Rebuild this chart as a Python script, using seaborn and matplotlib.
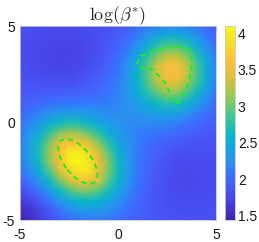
import numpy as np
import matplotlib
matplotlib.use("Agg")
import matplotlib.pyplot as plt
from matplotlib.colors import LinearSegmentedColormap
from matplotlib.patches import Ellipse
import seaborn as sns

# grid of the map (columns left->right, rows top->bottom)
grid_x = [-5, -4.5, -4, -3.5, -3, -2.5, -2, -1.5, -1, -0.5, 0, 0.5, 1, 1.5, 2, 2.5, 3, 3.5, 4, 4.5, 5]
grid_y = [5, 4.5, 4, 3.5, 3, 2.5, 2, 1.5, 1, 0.5, 0, -0.5, -1, -1.5, -2, -2.5, -3, -3.5, -4, -4.5, -5]

# log(beta*)
log_beta = [
    [1.82, 1.80, 1.79, 1.77, 1.76, 1.76, 1.77, 1.79, 1.81, 1.84, 1.88, 1.93, 2.00, 2.08, 2.16, 2.21, 2.21, 2.15, 2.07, 1.99, 1.92],
    [1.81, 1.79, 1.77, 1.75, 1.74, 1.74, 1.75, 1.77, 1.81, 1.85, 1.91, 1.99, 2.11, 2.26, 2.41, 2.50, 2.50, 2.41, 2.25, 2.10, 1.98],
    [1.80, 1.78, 1.75, 1.73, 1.72, 1.72, 1.73, 1.77, 1.81, 1.87, 1.95, 2.08, 2.26, 2.49, 2.73, 2.88, 2.88, 2.73, 2.48, 2.24, 2.05],
    [1.80, 1.77, 1.75, 1.72, 1.71, 1.71, 1.73, 1.77, 1.83, 1.90, 2.01, 2.17, 2.42, 2.73, 3.05, 3.26, 3.27, 3.06, 2.72, 2.38, 2.13],
    [1.81, 1.78, 1.75, 1.73, 1.72, 1.73, 1.75, 1.79, 1.85, 1.94, 2.06, 2.25, 2.54, 2.91, 3.29, 3.53, 3.53, 3.28, 2.88, 2.48, 2.18],
    [1.82, 1.80, 1.78, 1.76, 1.76, 1.76, 1.79, 1.83, 1.90, 1.98, 2.10, 2.30, 2.58, 2.96, 3.34, 3.58, 3.58, 3.32, 2.91, 2.50, 2.19],
    [1.85, 1.84, 1.83, 1.82, 1.82, 1.83, 1.86, 1.90, 1.95, 2.03, 2.14, 2.30, 2.56, 2.88, 3.21, 3.41, 3.40, 3.16, 2.80, 2.43, 2.16],
    [1.88, 1.89, 1.90, 1.91, 1.92, 1.94, 1.95, 1.98, 2.02, 2.08, 2.16, 2.28, 2.47, 2.71, 2.94, 3.09, 3.06, 2.87, 2.59, 2.31, 2.09],
    [1.93, 1.96, 2.00, 2.05, 2.08, 2.10, 2.11, 2.11, 2.11, 2.13, 2.18, 2.25, 2.36, 2.51, 2.64, 2.72, 2.69, 2.55, 2.36, 2.16, 2.02],
    [1.99, 2.06, 2.15, 2.24, 2.32, 2.35, 2.34, 2.30, 2.25, 2.21, 2.20, 2.22, 2.26, 2.33, 2.38, 2.41, 2.37, 2.28, 2.16, 2.04, 1.95],
    [2.05, 2.17, 2.33, 2.50, 2.64, 2.71, 2.69, 2.59, 2.45, 2.34, 2.25, 2.21, 2.19, 2.19, 2.19, 2.18, 2.14, 2.08, 2.01, 1.94, 1.90],
    [2.11, 2.28, 2.51, 2.78, 3.03, 3.16, 3.14, 2.97, 2.74, 2.51, 2.33, 2.22, 2.15, 2.10, 2.07, 2.03, 1.99, 1.95, 1.91, 1.88, 1.86],
    [2.15, 2.36, 2.66, 3.03, 3.50, 3.61, 3.61, 3.41, 3.07, 2.73, 2.44, 2.25, 2.12, 2.04, 1.98, 1.93, 1.90, 1.86, 1.84, 1.83, 1.83],
    [2.15, 2.38, 2.72, 3.16, 3.60, 3.98, 3.98, 3.77, 3.38, 2.94, 2.56, 2.28, 2.11, 2.00, 1.93, 1.87, 1.83, 1.81, 1.80, 1.80, 1.81],
    [2.12, 2.33, 2.66, 3.11, 3.60, 3.97, 4.10, 3.94, 3.54, 3.07, 2.64, 2.31, 2.10, 1.97, 1.89, 1.83, 1.79, 1.77, 1.77, 1.78, 1.79],
    [2.04, 2.22, 2.51, 2.91, 3.37, 3.75, 3.93, 3.95, 3.50, 3.06, 2.64, 2.31, 2.09, 1.95, 1.86, 1.81, 1.77, 1.76, 1.76, 1.77, 1.79],
    [1.93, 2.07, 2.30, 2.62, 3.00, 3.33, 3.52, 3.50, 3.40, 2.92, 2.56, 2.27, 2.07, 1.94, 1.85, 1.80, 1.77, 1.75, 1.76, 1.77, 1.79],
    [1.79, 1.90, 2.07, 2.32, 2.61, 2.87, 3.04, 3.06, 2.92, 2.68, 2.43, 2.20, 2.04, 1.92, 1.85, 1.80, 1.77, 1.76, 1.77, 1.78, 1.79],
    [1.65, 1.73, 1.88, 2.07, 2.28, 2.47, 2.60, 2.64, 2.57, 2.43, 2.27, 2.12, 2.00, 1.91, 1.85, 1.81, 1.79, 1.78, 1.78, 1.79, 1.81],
    [1.54, 1.61, 1.73, 1.89, 2.05, 2.19, 2.29, 2.32, 2.30, 2.23, 2.13, 2.04, 1.96, 1.90, 1.85, 1.83, 1.81, 1.80, 1.80, 1.81, 1.82],
    [1.48, 1.54, 1.65, 1.79, 1.92, 2.03, 2.09, 2.12, 2.12, 2.08, 2.03, 1.98, 1.93, 1.89, 1.86, 1.84, 1.82, 1.82, 1.82, 1.82, 1.83],
]

# dashed green outlines
ell_center = (-2.05, -1.98)
ell_major = 2.74
ell_minor = 1.36
ell_angle = -52
ring_x = [0.95, 1.12, 1.72, 2.31, 3.16, 3.59, 3.76, 3.76, 3.67, 3.47, 3.25, 3.08, 2.82, 2.69, 2.48, 2.14, 1.72, 1.29, 0.95]
ring_y = [3.03, 3.42, 3.68, 3.85, 3.93, 3.81, 3.42, 2.82, 2.30, 1.79, 1.36, 1.02, 1.07, 1.44, 1.96, 2.39, 2.78, 2.82, 3.03]

axis_ticks = [-5, 0, 5]
cbar_ticks = [1.5, 2, 2.5, 3, 3.5, 4]
cbar_labels = ['1.5', '2', '2.5', '3', '3.5', '4']

sns.set_style("white")
plt.rcParams['font.family'] = ['Liberation Sans', 'DejaVu Sans']
plt.rcParams['mathtext.fontset'] = 'cm'
plt.rcParams['axes.unicode_minus'] = False

# parula-like colormap
parula = LinearSegmentedColormap.from_list('parula', [
    (0.00, (0.2422, 0.1504, 0.6603)),
    (0.06, (0.2694, 0.2094, 0.8249)),
    (0.12, (0.2809, 0.2875, 0.9305)),
    (0.18, (0.2749, 0.3693, 0.9840)),
    (0.25, (0.2006, 0.4803, 0.9906)),
    (0.31, (0.1540, 0.5902, 0.9218)),
    (0.38, (0.0650, 0.6600, 0.8700)),
    (0.44, (0.0200, 0.7200, 0.7800)),
    (0.50, (0.1800, 0.7600, 0.6400)),
    (0.56, (0.3200, 0.7850, 0.5200)),
    (0.62, (0.5300, 0.7900, 0.3700)),
    (0.69, (0.7400, 0.7750, 0.2400)),
    (0.75, (0.8900, 0.7450, 0.2300)),
    (0.81, (0.9900, 0.7400, 0.2400)),
    (0.87, (0.9850, 0.8100, 0.2000)),
    (0.94, (0.9600, 0.9000, 0.1400)),
    (1.00, (0.9769, 0.9839, 0.0805)),
])

green = '#19f019'
edge = '0.78'

fig = plt.figure(figsize=(2.59, 2.42), dpi=100)
ax = fig.add_axes([20/259, 22/242, 196/259, 194/242])
cax = fig.add_axes([225/259, 22/242, 10/259, 194/242])

mesh = ax.pcolormesh(grid_x, grid_y, np.array(log_beta), shading='gouraud',
                     cmap=parula, vmin=1.44, vmax=4.1)
ax.add_patch(Ellipse(ell_center, ell_major, ell_minor, angle=ell_angle, fill=False,
                     ec=green, lw=1.3, ls=(0, (3, 2.2))))
sns.lineplot(x=ring_x, y=ring_y, sort=False, estimator=None, ax=ax, color=green,
             lw=1.3, linestyle=(0, (3, 2.2)))

ax.set_xlim(-5, 5)
ax.set_ylim(-5, 5)
ax.set_xticks(axis_ticks)
ax.set_yticks(axis_ticks)
ax.tick_params(direction='in', length=3, width=0.5, color='0.35', labelsize=10,
               top=True, right=True, labelcolor='0.1')
ax.tick_params(axis='x', pad=6)
ax.tick_params(axis='y', pad=3.5)
for s in ax.spines.values():
    s.set_color(edge)
    s.set_linewidth(0.6)
ax.set_title(r'$\log(\beta^{*})$', fontsize=13, pad=4)

cb = fig.colorbar(mesh, cax=cax, ticks=cbar_ticks)
cb.ax.set_yticklabels(cbar_labels)
cb.outline.set_edgecolor(edge)
cb.outline.set_linewidth(0.6)
cax.tick_params(direction='in', length=2, width=0.5, color='0.35', labelsize=10,
                pad=2, labelcolor='0.1')

fig.savefig('out.png', dpi=100)
